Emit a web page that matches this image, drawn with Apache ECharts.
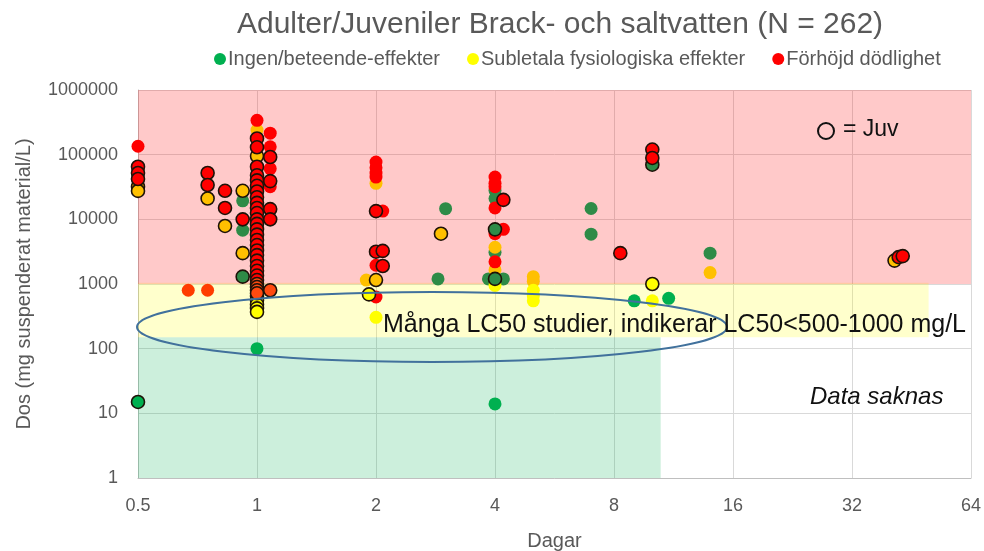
<!DOCTYPE html>
<html>
<head>
<meta charset="utf-8">
<script src="https://cdn.jsdelivr.net/npm/echarts@6/dist/echarts.min.js"></script>
<style>
  html, body { margin: 0; padding: 0; background: #fff; }
  #chart { width: 984px; height: 551px; }
</style>
</head>
<body>
<div id="chart"></div>
<script>
// axlar
const dagarTicks = [0.5, 1, 2, 4, 8, 16, 32, 64]
const dosTicks = [1, 10, 100, 1000, 10000, 100000, 1000000]

// gröna punkter: ingen/beteende-effekter  [dagar, dos]
const gronMork = [[0.92, 19300], [0.92, 6800], [3, 14600], [2.87, 1200], [4, 28000], [4, 21000], [4, 7000], [4, 3100], [4.2, 1200], [3.85, 1200], [7, 14700], [7, 5900], [14, 3000]]
const gronLjus = [[1, 100], [4, 14], [9, 550], [11, 600]]
const gronJuvLjus = [[0.5, 15]]
const gronJuvMork = [[0.92, 1300], [4, 7000], [4, 1200], [10, 70000]]

// gula punkter: subletala fysiologiska effekter
const gulGuld = [[1, 240000], [0.5, 30000], [2, 36000], [1.89, 1150], [4, 3700], [4, 1650], [5, 1300], [5, 1100], [14, 1500]]
const gulLjus = [[2, 305], [4, 950], [5, 800], [5, 650], [5, 550], [10, 550]]
const gulJuvGuld = [[0.5, 32000], [0.5, 27500], [0.75, 21000], [0.83, 7900], [0.92, 27600], [0.92, 3000], [1, 95000], [2, 1150], [2.92, 6000], [41, 2300]]
const gulJuvLjus = [[1, 650], [1, 560], [1, 480], [1, 420], [1, 370], [1.92, 690], [10, 1000]]

// röda punkter: förhöjd dödlighet
const rodPlain = [[0.5, 135000], [1, 340000], [1.08, 215000], [1.08, 132000], [1.08, 61000], [1.08, 32000], [2, 77000], [2, 63000], [2, 52000], [2, 45000], [2, 1950], [2, 630], [2.08, 13400], [2.08, 3200], [4, 45000], [4, 36000], [4, 32000], [4, 15000], [4, 6000], [4, 2200], [4.2, 7000]]
const rodOrange = [[0.67, 800], [0.75, 800]]
const rodJuv = [[0.5, 65000], [0.5, 52000], [0.5, 42000], [0.75, 52000], [0.75, 34000], [0.83, 27600], [0.83, 15000], [0.92, 10000],
  [1, 178000], [1, 130000], [1, 65000], [1, 48000], [1, 40000], [1, 33000], [1, 27000], [1, 22000], [1, 18000], [1, 15000], [1, 12500], [1, 10000],
  [1, 8500], [1, 7000], [1, 5800], [1, 4800], [1, 4000], [1, 3300], [1, 2800], [1, 2300], [1, 1900], [1, 1600], [1, 1350], [1, 1150],
  [1.08, 92000], [1.08, 39000], [1.08, 14400], [1.08, 10000], [2, 13400], [2, 3160], [2.08, 3250], [2.08, 1900], [4.2, 20000], [8.3, 3000],
  [10, 120000], [10, 89000], [42, 2600], [43, 2700]]
const rodOrangeJuv = [[1, 1000], [1, 900], [1, 800], [1, 720], [1.08, 800]]

const namnGron = 'Ingen/beteende-effekter'
const namnGul = 'Subletala fysiologiska effekter'
const namnRod = 'Förhöjd dödlighet'

const font = 'Liberation Sans'
const gra = '#595959'

function punkter(name, data, color, juv) {
  return {
    type: 'scatter',
    name: name,
    data: data,
    symbolSize: 13,
    itemStyle: {
      color: color,
      opacity: 1,
      borderColor: juv ? '#1e1208' : color,
      borderWidth: juv ? 1.6 : 0,
    },
    emphasis: { disabled: true },
  }
}

let chart = echarts.init(document.getElementById('chart'))

chart.setOption({
  animation: false,
  textStyle: { fontFamily: font },
  title: {
    text: 'Adulter/Juveniler Brack- och saltvatten (N = 262)',
    left: 555,
    textAlign: 'center',
    top: 5,
    textStyle: { fontFamily: font, fontSize: 30, fontWeight: 'normal', color: gra },
  },
  legend: {
    top: 44,
    left: 209,
    itemWidth: 12,
    itemHeight: 12,
    itemGap: 27,
    icon: 'circle',
    textStyle: { fontFamily: font, fontSize: 20, color: gra, padding: [0, 0, 0, -3] },
    data: [
      { name: namnGron, itemStyle: { color: '#00b050', borderWidth: 0 } },
      { name: namnGul, itemStyle: { color: '#ffff00', borderWidth: 0 } },
      { name: namnRod, itemStyle: { color: '#ff0000', borderWidth: 0 } },
    ],
  },
  grid: { left: 138, right: 13, top: 90, bottom: 73, containLabel: false, outerBoundsMode: 'none' },
  xAxis: {
    type: 'log',
    logBase: 2,
    min: dagarTicks[0],
    max: dagarTicks[dagarTicks.length - 1],
    splitNumber: 7,
    name: 'Dagar',
    nameLocation: 'middle',
    nameGap: 53,
    nameTextStyle: { fontFamily: font, fontSize: 20, color: gra },
    axisLine: { show: true, lineStyle: { color: '#bfbfbf' } },
    axisTick: { show: false },
    axisLabel: {
      fontFamily: font, fontSize: 18, color: gra, margin: 19,
      formatter: v => String(+Number(v).toPrecision(4)),
    },
    splitLine: { show: true, lineStyle: { color: '#d9d9d9' } },
  },
  yAxis: {
    type: 'log',
    logBase: 10,
    min: dosTicks[0],
    max: dosTicks[dosTicks.length - 1],
    splitNumber: 6,
    name: 'Dos (mg suspenderat material/L)',
    nameLocation: 'middle',
    nameGap: 104,
    nameTextStyle: { fontFamily: font, fontSize: 20, color: gra },
    axisLine: { show: true, lineStyle: { color: '#bfbfbf' } },
    axisTick: { show: false },
    axisLabel: {
      fontFamily: font, fontSize: 18, color: gra, margin: 20,
      formatter: v => String(Math.round(v)),
    },
    splitLine: { show: true, lineStyle: { color: '#d9d9d9' } },
  },
  series: [
    {
      type: 'scatter',
      name: 'omraden',
      data: [],
      silent: true,
      markArea: {
        silent: true,
        data: [
          [{ coord: [0.5, 1], itemStyle: { color: 'rgba(0,176,80,0.2)' } }, { coord: [10.5, 150] }],
          [{ coord: [0.5, 150], itemStyle: { color: 'rgba(255,255,0,0.2)' } }, { coord: [50, 1050] }],
          [{ coord: [0.5, 1000], itemStyle: { color: 'rgba(255,0,0,0.21)' } }, { coord: [64, 1000000] }],
        ],
      },
    },
    punkter(namnGron, gronMork, '#2e8b47', false),
    punkter(namnGron, gronLjus, '#00b050', false),
    punkter(namnGul, gulGuld, '#ffc000', false),
    punkter(namnGul, gulLjus, '#ffff00', false),
    punkter(namnRod, rodPlain, '#ff0000', false),
    punkter(namnRod, rodOrange, '#ff3c00', false),
    punkter(namnGron, gronJuvMork, '#2e8b47', true),
    punkter(namnGron, gronJuvLjus, '#00b050', true),
    punkter(namnGul, gulJuvGuld, '#ffc000', true),
    punkter(namnGul, gulJuvLjus, '#ffff00', true),
    punkter(namnRod, rodJuv, '#ff0000', true),
    punkter(namnRod, rodOrangeJuv, '#ff4a10', true),
  ],
  graphic: [
    {
      type: 'ellipse',
      z: 100,
      silent: true,
      shape: { cx: 432, cy: 327, rx: 295, ry: 35 },
      style: { fill: null, stroke: '#41719c', lineWidth: 2 },
    },
    {
      type: 'text',
      z: 101,
      left: 383,
      top: 313,
      style: { text: 'Många LC50 studier, indikerar LC50<500-1000 mg/L', fontFamily: font, fontSize: 25, fill: '#111' },
    },
    {
      type: 'text',
      z: 101,
      left: 810,
      top: 385,
      style: { text: 'Data saknas', fontFamily: font, fontSize: 24, fontStyle: 'italic', fill: '#111' },
    },
    {
      type: 'circle',
      z: 101,
      shape: { cx: 826, cy: 131, r: 8 },
      style: { fill: null, stroke: '#111', lineWidth: 2 },
    },
    {
      type: 'text',
      z: 101,
      left: 843,
      top: 118,
      style: { text: '= Juv', fontFamily: font, fontSize: 23, fill: '#111' },
    },
  ],
})
</script>
</body>
</html>
